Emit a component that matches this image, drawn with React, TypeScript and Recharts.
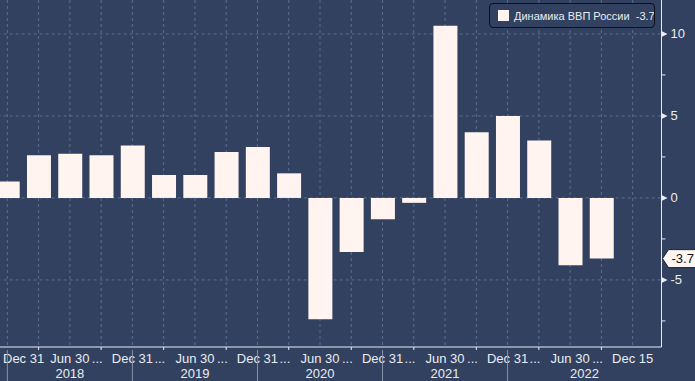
import { BarChart, Bar, XAxis, YAxis, CartesianGrid, Legend, ReferenceLine } from 'recharts';

// quarterly GDP growth, % y/y
const quarters = [
  '2017-12-31', '2018-03-31', '2018-06-30', '2018-09-30', '2018-12-31',
  '2019-03-31', '2019-06-30', '2019-09-30', '2019-12-31', '2020-03-31',
  '2020-06-30', '2020-09-30', '2020-12-31', '2021-03-31', '2021-06-30',
  '2021-09-30', '2021-12-31', '2022-03-31', '2022-06-30', '2022-09-30',
  '2022-12-15',
];
const gdpGrowth = [
  1.0, 2.6, 2.7, 2.6, 3.2, 1.4, 1.4, 2.8, 3.1, 1.5,
  -7.4, -3.3, -1.3, -0.3, 10.5, 4.0, 5.0, 3.5, -4.1, -3.7,
  null,
];
const tickLabels = [
  'Dec 31', '', 'Jun 30 ...', '', 'Dec 31 ...', '', 'Jun 30 ...', '', 'Dec 31 ...', '',
  'Jun 30 ...', '', 'Dec 31 ...', '', 'Jun 30 ...', '', 'Dec 31 ...', '', 'Jun 30 ...', '',
  'Dec 15',
];
const yearLabels = ['2018', '2019', '2020', '2021', '2022'];
const yearStarts = [0, 4, 8, 12, 16];
const yTicks = [-7.5, -5, -2.5, 0, 2.5, 5, 7.5, 10];
const yGrid = [-5, 0, 5, 10];
const seriesName = 'Динамика ВВП России';

const W = 695;
const H = 381;
const BG = '#32415f';
const BAR = '#fff4ef';
const GRID = '#5b6d90';
const AXIS = '#e9edf3';
const SEP = '#8793a8';
const FONT = '"Liberation Sans", Arial, sans-serif';
const PLOT_RIGHT = 661.5;
const STEP = 31.27;

const data = quarters.map((d, i) => ({ date: d, value: gdpGrowth[i] }));
const lastValue = gdpGrowth.filter(v => v != null).slice(-1)[0] as number;

const QuarterTick = ({ x, y, index }: any) => {
  const label = tickLabels[index];
  if (!label) return <line x1={x} x2={x} y1={y} y2={y + 3} stroke={AXIS} />;
  const base = label.replace(' ...', '');
  const dots = label.endsWith('...');
  const first = index === 0;
  return (
    <g fontFamily={FONT} fontSize={13} fill={AXIS}>
      <text x={first ? 3 : x} y={y + 11} dy="0.35em" textAnchor={first ? 'start' : 'middle'}>{base}</text>
      {dots && <text x={x + 22} y={y + 11} dy="0.35em" textAnchor="start">...</text>}
    </g>
  );
};

const YearTick = ({ x, y, index }: any) => {
  const k = yearStarts.indexOf(index);
  if (k < 0) return null;
  const end = k === yearStarts.length - 1 ? PLOT_RIGHT : x + 4 * STEP;
  return (
    <g>
      <line x1={x} x2={x} y1={y - 15} y2={y + 16} stroke={SEP} />
      <text x={(x + end) / 2} y={y + 8} dy="0.35em" textAnchor="middle" fontFamily={FONT} fontSize={13} fill={AXIS}>
        {yearLabels[k]}
      </text>
    </g>
  );
};

const ValueTick = ({ x, y, payload }: any) => {
  const v = payload.value;
  if (v % 5 !== 0) return <line x1={x} x2={x + 4} y1={y} y2={y} stroke={AXIS} />;
  return (
    <g>
      <polygon points={`${x},${y - 3} ${x + 6},${y} ${x},${y + 3}`} fill={AXIS} />
      <text x={x + 9} y={y} dy="0.35em" fontFamily={FONT} fontSize={13} fill={AXIS}>{v}</text>
    </g>
  );
};

const LastTag = ({ viewBox }: any) => {
  const x = viewBox.x + viewBox.width + 1;
  const y = viewBox.y;
  return (
    <g>
      <polygon
        points={`${x},${y} ${x + 6},${y - 9} ${x + 40},${y - 9} ${x + 40},${y + 9} ${x + 6},${y + 9}`}
        fill={BAR}
        stroke="#1a2232"
      />
      <text x={x + 9} y={y} dy="0.35em" fontFamily={FONT} fontSize={13} fill="#111">{lastValue}</text>
    </g>
  );
};

const LegendBox = () => (
  <div
    style={{
      boxSizing: 'border-box', width: 166, height: 25, border: '1px solid #0c111c', borderRadius: 4,
      background: BG, display: 'flex', alignItems: 'center', paddingLeft: 8,
      fontFamily: FONT, fontSize: 11, color: AXIS, whiteSpace: 'nowrap', overflow: 'hidden',
    }}
  >
    <span style={{ display: 'inline-block', flexShrink: 0, width: 11, height: 11, background: BAR, marginRight: 5 }} />
    <span>{seriesName}&nbsp; {lastValue}</span>
  </div>
);

export default function App() {
  return (
    <div style={{ position: 'fixed', left: 0, top: 0, width: W, height: H, background: BG }}>
      <BarChart width={W} height={H} data={data} margin={{ top: 0, right: 0, bottom: 0, left: -8.3 }}>
        <CartesianGrid stroke={GRID} strokeDasharray="3 3" horizontalValues={yGrid} />
        <XAxis
          dataKey="date" interval={0} height={18} tickSize={0} tickMargin={0}
          axisLine={{ stroke: AXIS }} tickLine={false} tick={<QuarterTick />}
          padding={{ left: 0, right: 13.2 }}
        />
        <XAxis
          xAxisId="year" dataKey="date" interval={0} height={16} tickSize={0} tickMargin={0}
          axisLine={false} tickLine={false} tick={<YearTick />}
          padding={{ left: 0, right: 13.2 }}
        />
        <YAxis
          orientation="right" width={33.5} domain={[-9.09, 12.07]} allowDataOverflow
          ticks={yTicks} interval={0} tickSize={0} tickMargin={0}
          axisLine={{ stroke: AXIS }} tickLine={false} tick={<ValueTick />}
        />
        <Legend
          verticalAlign="middle" align="center" content={<LegendBox />}
          wrapperStyle={{ left: 489, top: 3, width: 166, height: 25 }}
        />
        <Bar dataKey="value" name={seriesName} fill={BAR} barSize={24} isAnimationActive={false} />
        <ReferenceLine y={lastValue} stroke="none" label={{ content: <LastTag /> }} />
      </BarChart>
    </div>
  );
}
